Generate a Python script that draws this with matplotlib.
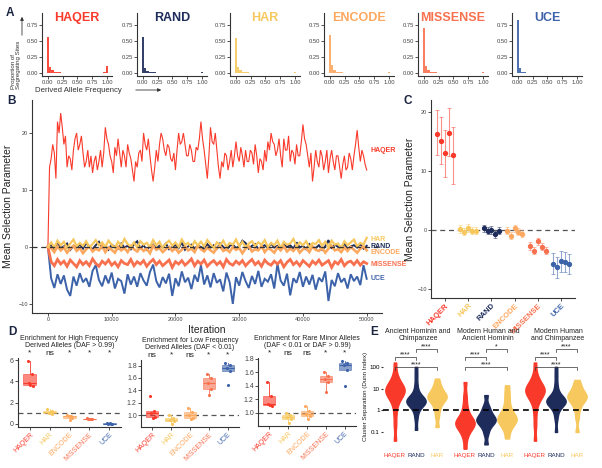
import numpy as np
import matplotlib
matplotlib.use('Agg')
import matplotlib.pyplot as plt
from matplotlib.patches import FancyArrowPatch
import matplotlib.transforms as mtransforms

plt.rcParams['font.family'] = ['Liberation Sans', 'DejaVu Sans']

#______colours per region set
col = {'HAQER': '#F93A2B', 'RAND': '#1D2C5B', 'HAR': '#F7C85E',
       'ENCODE': '#FDA85F', 'MISSENSE': '#F8714F', 'UCE': '#3C62A9'}
INK = '#333333'
LETTER = '#1B2440'

#______A: derived allele frequency spectra
a_groups = ['HAQER', 'RAND', 'HAR', 'ENCODE', 'MISSENSE', 'UCE']
daf_bins = np.linspace(0, 1, 26)
afs_haqer = [0.56, 0.10, 0.05, 0.03, 0.02, 0.015, 0.012, 0.01, 0.01, 0.008, 0.008, 0.007, 0.006,
             0.006, 0.005, 0.005, 0.005, 0.005, 0.005, 0.005, 0.005, 0.005, 0.006, 0.008, 0.02, 0.11]
afs_rand = [0.57, 0.09, 0.04, 0.03, 0.02, 0.015, 0.012, 0.01, 0.009, 0.008, 0.007, 0.006, 0.006,
            0.005, 0.005, 0.005, 0.004, 0.004, 0.004, 0.004, 0.004, 0.004, 0.004, 0.005, 0.008, 0.02]
afs_har = [0.55, 0.10, 0.05, 0.03, 0.02, 0.015, 0.012, 0.01, 0.009, 0.008, 0.007, 0.006, 0.006,
           0.005, 0.005, 0.005, 0.004, 0.004, 0.004, 0.004, 0.004, 0.004, 0.005, 0.006, 0.01, 0.03]
afs_encode = [0.60, 0.13, 0.05, 0.03, 0.02, 0.015, 0.012, 0.01, 0.009, 0.008, 0.007, 0.006, 0.006,
              0.005, 0.005, 0.005, 0.004, 0.004, 0.004, 0.004, 0.004, 0.004, 0.005, 0.006, 0.008, 0.02]
afs_missense = [0.71, 0.11, 0.05, 0.03, 0.02, 0.015, 0.01, 0.009, 0.008, 0.007, 0.006, 0.005, 0.005,
                0.004, 0.004, 0.004, 0.004, 0.003, 0.003, 0.003, 0.003, 0.003, 0.004, 0.005, 0.007, 0.02]
afs_uce = [0.83, 0.08, 0.03, 0.015, 0.01, 0.008, 0.006, 0.005, 0.004, 0.004, 0.003, 0.003, 0.003,
           0.002, 0.002, 0.002, 0.002, 0.001, 0.001, 0.0, 0.0, 0.0, 0.0, 0.0, 0.0, 0.0]

#______B: MCMC traces of the mean selection parameter
trace_haqer = [0, 14, 15.5, 18, 16.5, 12, 22, 20, 23.5, 21, 18, 19.5, 14, 16, 15.5, 13.5, 17, 19, 20, 17,
               18, 19.5, 16.5, 14, 15, 17, 14, 16, 13, 15, 16, 13.5, 15, 17, 14, 16.5, 21, 19, 18, 16,
               15, 13, 17.5, 16, 19, 16.5, 14, 17, 16, 14, 18, 16.5, 15.5, 13.5, 11.5, 15, 14, 16.5, 17, 15,
               20, 18, 17, 19, 16, 13.5, 11.5, 14, 17, 15, 18, 20, 19, 17, 16, 18, 17.5, 15.5, 15, 16.5,
               13.5, 17, 20, 18, 18.5, 20, 18, 16, 16, 18, 17, 15, 15, 17.5, 17, 19, 22, 19, 17, 14.5,
               12, 16, 21, 18.5, 18, 20, 17, 14, 12, 15, 14, 16.5, 16, 13.5, 15, 17, 14, 16, 18.5, 16,
               15, 17.5, 16, 14, 17, 15, 15, 17, 16.5, 14.5, 18, 16, 13, 15.5, 15, 13.5, 17, 15, 18.5, 17,
               20, 18.5, 18, 16, 17, 19, 16, 14, 19, 17, 17, 19.5, 15, 17, 16.5, 14.5, 18, 16, 16, 18.5,
               21.5, 19, 18, 16, 14, 16.5, 11.5, 14, 17, 15, 14, 17, 16, 13.5, 15, 17, 13, 15.5, 17, 15,
               13.5, 16, 16, 14, 12, 14.5, 16, 13.5, 14, 16.5, 15.5, 13.5, 16, 18, 20.5, 17.5, 15, 17, 16, 14.5,
               13.5]
trace_uce = [0, -5.5, -7.2, -4.8, -6.5, -5.0, -7.5, -8.6, -5.2, -6.8, -4.6, -6.2, -5.5, -7.0, -4.2, -3.2,
             -5.8, -6.9, -5.0, -6.4, -4.5, -7.3, -5.6, -6.0, -8.2, -4.8, -6.6, -5.2, -7.0, -4.6, -5.9, -6.8,
             -4.4, -3.1, -6.0, -7.1, -5.3, -6.4, -4.7, -8.6, -5.5, -6.9, -4.3, -6.2, -5.4, -7.4, -4.9, -6.1,
             -3.2, -6.6, -5.0, -7.1, -4.6, -6.3, -5.7, -7.8, -4.5, -6.2, -10.0, -5.3, -6.8, -4.4, -6.0, -7.2,
             -5.1, -6.5, -4.2, -7.0, -5.6, -6.1, -4.8, -7.3, -3.0, -5.9, -6.8, -4.7, -8.5, -5.5, -6.3, -4.4,
             -7.0, -5.2, -6.6, -4.9, -7.5, -5.4, -6.1, -4.3, -9.5, -5.8, -6.9, -4.6, -6.2, -5.5, -7.3, -4.8,
             -6.0, -5.2, -6.7, -3.2, -5.6]
trace_missense = [0, -2.6, -3.3, -2.2, -3.0, -2.5, -3.4, -2.3, -2.9, -3.5, -2.4, -3.1, -2.6, -3.3, -2.1,
                  -2.9, -3.4, -2.5, -3.0, -2.3, -3.2, -2.7, -3.5, -2.4, -2.9, -3.1, -2.2, -3.3, -2.6, -3.0,
                  -2.4, -3.4, -2.7, -2.2, -3.1, -2.5, -3.3, -2.8, -2.3, -3.6, -2.6, -3.0, -2.4, -3.2, -2.7,
                  -2.1, -3.3, -2.5, -3.0, -2.3, -3.4, -2.8, -2.4, -3.1, -2.6, -3.5, -2.2, -2.9, -3.2, -2.5,
                  -3.0, -2.4, -3.3, -2.7, -2.2, -3.1, -2.6, -3.4, -2.3, -2.9, -3.2, -2.5, -3.0, -2.4, -3.5,
                  -2.7, -2.2, -3.1, -2.6, -3.3, -2.4, -2.9, -3.4, -2.5, -3.0, -2.3, -3.2, -2.8, -2.4, -3.6,
                  -2.6, -3.0, -2.2, -3.3, -2.7, -2.5, -3.1, -2.4, -3.2, -2.6, -2.9]
trace_rand = [0, 0.3, -0.4, 0.5, -0.2, 0.1, 0.6, -0.5, 0.2, -0.1, 0.4, -0.3, 0.7, 0.0, -0.4, 0.3, 0.9,
              -0.2, 0.1, -0.5, 0.4, 0.0, -0.3, 0.6, -0.1, 0.2, -0.4, 0.5, 1.0, -0.2, 0.3, -0.5, 0.1, 0.4,
              -0.3, 0.2, -0.1, 0.6, -0.4, 0.0, 0.3, -0.2, 0.8, -0.5, 0.1, 0.4, -0.3, 0.2, 0.0, -0.4, 0.5,
              -0.1, 0.3, -0.3, 0.6, 0.0, -0.5, 0.2, 0.4, -0.2, 0.1, 1.1, 0.7, -0.3, 0.2, 0.5, -0.4, 0.0,
              0.3, -0.2, 0.6, -0.1, 0.2, -0.5, 0.4, 0.0, 0.3, -0.3, 0.8, -0.1, 0.2, -0.4, 0.5, 0.0, -0.2,
              0.3, -0.5, 0.1, 1.2, -0.3, 0.4, 0.0, -0.2, 0.6, -0.4, 0.1, 0.3, -0.1, 0.5, -0.3, 0.2]
trace_encode = [0, -0.2, -0.9, 0.1, -0.6, -0.1, -1.0, -0.3, 0.2, -0.7, -0.2, -1.1, -0.4, 0.1, -0.8, -0.3,
                -0.6, 0.2, -0.9, -0.1, -0.5, -1.0, 0.0, -0.6, -0.2, -0.9, 0.1, -0.4, -0.8, -0.1, -0.7, -0.3,
                -1.1, 0.2, -0.5, -0.2, -0.9, -0.4, 0.0, -0.7, -0.2, -1.0, -0.5, 0.1, -0.6, -0.3, -0.9, 0.2,
                -0.4, -0.8, -0.1, -0.6, -1.0, -0.2, 0.1, -0.7, -0.4, -0.9, 0.0, -0.5, -0.2, -1.1, -0.3, 0.1,
                -0.8, -0.4, -0.6, 0.2, -0.9, -0.2, -0.5, -1.0, -0.1, -0.6, 0.1, -0.8, -0.3, -0.7, 0.0, -1.0,
                -0.4, -0.2, -0.9, 0.1, -0.5, -0.7, -0.2, -1.0, -0.3, 0.2, -0.6, -0.4, -0.9, -0.1, -0.7, 0.0,
                -0.5, -1.0, -0.3, 0.1, -0.6]
trace_har = [0, 0.8, -0.1, 1.1, 0.3, 0.9, -0.2, 0.6, 1.3, 0.1, 0.7, 0.2, 1.0, -0.1, 0.5, 1.2, 0.3, 0.8,
             0.0, 1.1, 0.4, -0.2, 0.9, 0.2, 1.4, 0.5, 0.1, 0.8, -0.1, 1.0, 0.4, 0.7, 0.0, 1.2, 0.3, 0.9,
             -0.2, 0.6, 1.1, 0.2, 0.8, 0.0, 1.3, 0.4, 0.7, -0.1, 1.0, 0.3, 0.9, 0.1, 1.2, 0.5, -0.2, 0.8,
             0.3, 1.1, 0.0, 0.7, 0.4, 1.3, 0.1, 0.9, -0.1, 0.6, 1.0, 0.2, 0.8, 0.4, 1.2, 0.0, 0.7, 0.3,
             1.1, -0.2, 0.9, 0.4, 0.6, 1.4, 0.1, 0.8, 0.3, 1.0, -0.1, 0.7, 0.5, 1.2, 0.2, 0.9, 0.0, 1.1,
             0.4, 0.6, -0.2, 1.0, 0.3, 0.8, 1.3, 0.1, 0.7, 0.4, 1.6]
b_label_y = {'HAQER': 17, 'HAR': 1.3, 'RAND': 0.1, 'ENCODE': -1.0, 'MISSENSE': -3.0, 'UCE': -5.6}

#______C: per-chain posterior means with intervals
c_groups = ['HAQER', 'HAR', 'RAND', 'ENCODE', 'MISSENSE', 'UCE']
c_mean_haqer = [16.3, 15.1, 13.0, 16.4, 12.7]
c_lo_haqer = [12.7, 11.2, 9.0, 12.5, 7.8]
c_hi_haqer = [20.3, 19.2, 17.0, 20.7, 17.5]
c_mean_har = [0.2, -0.3, 0.3, -0.1, -0.1]
c_lo_har = [-0.5, -0.9, -0.4, -0.7, -0.7]
c_hi_har = [0.9, 0.3, 1.0, 0.5, 0.5]
c_mean_rand = [0.3, -0.1, 0.0, -0.7, -0.1]
c_lo_rand = [-0.3, -0.7, -0.6, -1.3, -0.7]
c_hi_rand = [0.9, 0.5, 0.6, -0.1, 0.5]
c_mean_encode = [-0.1, -1.0, 0.3, -0.3, -0.6]
c_lo_encode = [-0.7, -1.6, -0.3, -0.9, -1.2]
c_hi_encode = [0.5, -0.4, 0.9, 0.3, 0.0]
c_mean_missense = [-2.7, -3.5, -1.9, -2.8, -3.5]
c_lo_missense = [-3.4, -4.1, -2.5, -3.4, -4.1]
c_hi_missense = [-2.0, -2.9, -1.3, -2.2, -2.9]
c_mean_uce = [-5.8, -6.3, -5.3, -5.4, -5.8]
c_lo_uce = [-7.5, -8.1, -7.1, -7.1, -7.5]
c_hi_uce = [-3.9, -4.6, -3.6, -3.7, -4.0]

#______D: enrichment relative to random regions
d_groups = ['HAQER', 'HAR', 'ENCODE', 'MISSENSE', 'UCE']
d1_haqer = [5.9, 4.7, 3.8, 3.6, 3.7]
d1_har = [1.35, 1.2, 1.0, 0.9, 1.1]
d1_encode = [0.85, 0.75, 0.7, 0.55, 0.35]
d1_missense = [0.55, 0.5, 0.45, 0.45, 0.5]
d1_uce = [0.03, 0.01, 0.0, 0.02, 0.03]
d2_haqer = [1.31, 1.07, 1.03, 0.97, 0.96]
d2_har = [1.0, 0.95, 0.93, 0.91, 0.86]
d2_encode = [1.12, 1.05, 1.0, 0.96, 0.94]
d2_missense = [1.66, 1.6, 1.52, 1.43, 1.33]
d2_uce = [1.84, 1.81, 1.76, 1.72, 1.49]
d3_haqer = [1.45, 1.25, 1.12, 1.09, 1.11]
d3_har = [1.0, 0.97, 0.93, 0.9, 0.85]
d3_encode = [1.1, 1.02, 0.98, 0.95, 0.9]
d3_missense = [1.6, 1.55, 1.5, 1.45, 1.3]
d3_uce = [1.76, 1.74, 1.7, 1.63, 1.4]
d1_sig = ['*', 'ns', '*', '*', '*']
d2_sig = ['ns', '*', 'ns', '*', '*']
d3_sig = ['*', 'ns', 'ns', '*', '*']
d_titles = ['Enrichment for High Frequency\nDerived Alleles (DAF > 0.99)',
            'Enrichment for Low Frequency\nDerived Alleles (DAF < 0.01)',
            'Enrichment for Rare Minor Alleles\n(DAF < 0.01 or DAF > 0.99)']

#______E: cluster separation (log10 Dunn index), quantiles
e_groups = ['HAQER', 'RAND', 'HAR']
e_titles = ['Ancient Hominin and\nChimpanzee', 'Modern Human and\nAncient Hominin',
            'Modern Human\nand Chimpanzee']
e1_haqer = [-1.4, -0.7, -0.2, 0.2, 0.4, 0.55, 0.65, 0.72, 0.78, 0.84, 0.9, 0.95, 1.0, 1.05, 1.12, 1.2, 1.3, 1.45, 1.7, 2.2]
e1_rand = [-0.9, -0.4, -0.1, 0.1, 0.2, 0.28, 0.33, 0.37, 0.4, 0.43, 0.46, 0.5, 0.55, 0.62, 0.72, 0.9, 1.2, 1.6, 2.0]
e1_har = [-0.77, -0.3, 0.0, 0.2, 0.35, 0.45, 0.52, 0.58, 0.63, 0.68, 0.74, 0.82, 0.92, 1.05, 1.2, 1.46]
e2_haqer = [-1.77, -1.3, -1.05, -0.9, -0.8, -0.72, -0.66, -0.6, -0.55, -0.5, -0.43, -0.33, -0.2, 0.0, 0.3, 0.7, 1.3]
e2_rand = [-1.57, -1.1, -0.85, -0.7, -0.6, -0.53, -0.47, -0.42, -0.37, -0.3, -0.2, -0.08, 0.05, 0.25, 0.7]
e2_har = [-1.3, -0.95, -0.75, -0.62, -0.53, -0.46, -0.4, -0.33, -0.25, -0.15, 0.0, 0.2, 0.5, 0.8, 1.15]
e3_haqer = [-1.4, -0.7, -0.2, 0.2, 0.4, 0.55, 0.65, 0.72, 0.78, 0.84, 0.9, 0.95, 1.0, 1.05, 1.12, 1.2, 1.3, 1.45, 1.7, 2.2]
e3_rand = [-1.0, -0.4, -0.1, 0.1, 0.2, 0.28, 0.33, 0.37, 0.4, 0.43, 0.46, 0.5, 0.55, 0.62, 0.72, 0.9, 1.2, 1.6, 2.0]
e3_har = [-1.0, -0.35, 0.0, 0.2, 0.35, 0.45, 0.52, 0.58, 0.63, 0.68, 0.74, 0.82, 0.92, 1.05, 1.2, 1.4]
e_sig = [['****', '****', '****'], ['****', '*', '****'], ['****', '****', '****']]

W, H = 602, 468
fig = plt.figure(figsize=(W / 100, H / 100), dpi=100)


def box(l, t, r, b):
    # pixel box (left, top, right, bottom) -> figure fraction rect
    return [l / W, 1 - b / H, (r - l) / W, (b - t) / H]


def classic(ax, fs):
    for s in ['top', 'right']:
        ax.spines[s].set_visible(False)
    for s in ['left', 'bottom']:
        ax.spines[s].set_color(INK)
        ax.spines[s].set_linewidth(0.8)
    ax.tick_params(labelsize=fs, length=2, width=0.6, color=INK, labelcolor='#444444', pad=1)


#______A
afs = dict(zip(a_groups, [afs_haqer, afs_rand, afs_har, afs_encode, afs_missense, afs_uce]))
a_left = [42, 137, 230, 324, 418, 512]
for k, g in enumerate(a_groups):
    ax = fig.add_axes(box(a_left[k], 13, a_left[k] + 70, 76))
    ax.bar(daf_bins, afs[g], width=0.04, color=col[g], alpha=0.9, linewidth=0)
    ax.set_xlim(-0.1, 1.085)
    ax.set_ylim(-0.04, 0.94)
    ax.set_xticks([0, 0.25, 0.5, 0.75, 1.0])
    ax.set_xticklabels(['0.00', '0.25', '0.50', '0.75', '1.00'])
    ax.set_yticks([0, 0.25, 0.5, 0.75])
    ax.set_yticklabels(['0.00', '0.25', '0.50', '0.75'])
    classic(ax, 4.2)
    ax.text(0.5, 0.92, g, transform=ax.transAxes, ha='center', va='center',
            color=col[g], fontsize=9, fontweight='bold')

fig.text(16 / W, 1 - 89 / H, 'Proportion of\nSegregating Sites', rotation=90, ha='center',
         va='bottom', multialignment='left', fontsize=4.4, color=INK)
fig.text(35 / W, 1 - 90 / H, 'Derived Allele Frequency', ha='left', va='center', fontsize=5.6, color=INK)
fig.add_artist(FancyArrowPatch((22 / W, 1 - 38 / H), (22 / W, 1 - 14 / H), transform=fig.transFigure,
                               arrowstyle='-|>', mutation_scale=5, lw=0.6, color=INK))
fig.add_artist(FancyArrowPatch((133 / W, 1 - 90 / H), (164 / W, 1 - 90 / H), transform=fig.transFigure,
                               arrowstyle='-|>', mutation_scale=5, lw=0.6, color=INK))

#______B
ax = fig.add_axes(box(32, 100, 382, 313))
traces = [('HAQER', trace_haqer, 0.8), ('UCE', trace_uce, 1.4), ('MISSENSE', trace_missense, 2.0),
          ('RAND', trace_rand, 1.4), ('ENCODE', trace_encode, 1.9), ('HAR', trace_har, 1.6)]
for g, v, lw in traces:
    it = np.linspace(0, 50000, len(v))
    ax.plot(it, v, color=col[g], lw=lw, solid_joinstyle='miter')
ax.axhline(0, color='#333333', lw=0.9, ls=(0, (4, 3)))
for g, y in b_label_y.items():
    ax.text(50600, y, g, color=col[g], fontsize=5, fontweight='bold', ha='left', va='center', clip_on=False)
ax.set_xlim(-2500, 52400)
ax.set_ylim(-11.6, 25.8)
ax.set_xticks([0, 10000, 20000, 30000, 40000, 50000])
ax.set_xticklabels(['0', '10000', '20000', '30000', '40000', '50000'])
ax.set_yticks([-10, 0, 10, 20])
classic(ax, 4)
ax.set_xlabel('Iteration', fontsize=7.5, labelpad=2, color='#222222')
ax.set_ylabel('Mean Selection Parameter', fontsize=7.5, labelpad=4, color='#222222')

#______C
c_mean = dict(zip(c_groups, [c_mean_haqer, c_mean_har, c_mean_rand, c_mean_encode, c_mean_missense, c_mean_uce]))
c_lo = dict(zip(c_groups, [c_lo_haqer, c_lo_har, c_lo_rand, c_lo_encode, c_lo_missense, c_lo_uce]))
c_hi = dict(zip(c_groups, [c_hi_haqer, c_hi_har, c_hi_rand, c_hi_encode, c_hi_missense, c_hi_uce]))
ax = fig.add_axes(box(431, 100, 575, 298))
ax.axhline(0, color='#555555', lw=0.9, ls=(0, (4, 3)), zorder=1)
for gi, g in enumerate(c_groups):
    for j in range(5):
        x = gi + 1 + (j - 2) * 0.167
        m = c_mean[g][j]
        ax.errorbar(x, m, yerr=[[m - c_lo[g][j]], [c_hi[g][j] - m]], fmt='none',
                    ecolor=col[g], alpha=0.55, elinewidth=0.8, capsize=1.3, capthick=0.6, zorder=2)
        ax.plot(x, m, 'o', color=col[g], ms=2.8, zorder=3)
ax.set_xlim(0.4, 6.6)
ax.set_ylim(-11.5, 22)
ax.set_yticks([-10, 0, 10, 20])
ax.set_xticks(range(1, 7))
ax.set_xticklabels(c_groups, rotation=45, ha='right', rotation_mode='anchor')
classic(ax, 4)
ax.tick_params(axis='x', labelsize=5.5)
for lab, g in zip(ax.get_xticklabels(), c_groups):
    lab.set_color(col[g])
    lab.set_fontweight('bold')
ax.set_ylabel('Mean Selection Parameter', fontsize=7.5, labelpad=2, color='#222222')

#______D
d_sets = [[d1_haqer, d1_har, d1_encode, d1_missense, d1_uce],
          [d2_haqer, d2_har, d2_encode, d2_missense, d2_uce],
          [d3_haqer, d3_har, d3_encode, d3_missense, d3_uce]]
d_sigs = [d1_sig, d2_sig, d3_sig]
d_boxes = [(18, 358, 121, 427), (141, 360, 239, 427), (258, 358, 356, 426)]
d_ylims = [(-0.3, 6.2), (0.81, 1.89), (0.80, 1.81)]
d_yticks = [[0, 2, 4, 6], [1.0, 1.2, 1.4, 1.6, 1.8], [1.0, 1.2, 1.4, 1.6, 1.8]]
jit = [-0.12, 0.1, -0.05, 0.14, 0.03]
for p in range(3):
    ax = fig.add_axes(box(*d_boxes[p]))
    ax.axhline(1, color='#555555', lw=0.9, ls=(0, (4, 3)), zorder=1)
    bp = ax.boxplot(d_sets[p], positions=range(1, 6), widths=0.65, patch_artist=True,
                    showfliers=False, whis=1.5)
    for gi, g in enumerate(d_groups):
        bp['boxes'][gi].set(facecolor=col[g], alpha=0.6, edgecolor=col[g], linewidth=0.6)
        bp['medians'][gi].set(color=col[g], linewidth=0.8)
        for w in bp['whiskers'][2 * gi:2 * gi + 2]:
            w.set(color=col[g], linewidth=0.6)
        for c in bp['caps'][2 * gi:2 * gi + 2]:
            c.set_visible(False)
        ax.scatter(np.array(jit) + gi + 1, d_sets[p][gi], s=5, color=col[g], zorder=4, linewidths=0)
    trans = mtransforms.blended_transform_factory(ax.transData, ax.transAxes)
    for gi, s in enumerate(d_sigs[p]):
        ax.text(gi + 1, 1.02, s, transform=trans, ha='center', va='bottom', fontsize=6, color='#222222')
    ax.set_xlim(0.4, 5.6)
    ax.set_ylim(*d_ylims[p])
    ax.set_yticks(d_yticks[p])
    if p > 0:
        ax.set_yticklabels(['%.1f' % t for t in d_yticks[p]])
    ax.set_xticks(range(1, 6))
    ax.set_xticklabels(d_groups, rotation=45, ha='right', rotation_mode='anchor')
    classic(ax, 5)
    for lab, g in zip(ax.get_xticklabels(), d_groups):
        lab.set_color(col[g])
    ax.set_title(d_titles[p], fontsize=5, pad=8, color='#222222', linespacing=1.0)

#______E
e_sets = [[e1_haqer, e1_rand, e1_har], [e2_haqer, e2_rand, e2_har], [e3_haqer, e3_rand, e3_har]]
brackets = [(1, 2, 2.46), (2, 3, 2.83), (1, 3, 2.0)]
for f in range(3):
    l = 383 + 70 * f
    ax = fig.add_axes(box(l, 343, l + 70, 450))
    parts = ax.violinplot(e_sets[f], positions=[1, 2, 3], widths=0.92, showextrema=False, bw_method=0.3)
    for body, g in zip(parts['bodies'], e_groups):
        body.set_facecolor(col[g])
        body.set_edgecolor(col[g])
        body.set_alpha(1)
    ax.axhline(0, color='black', lw=1.2, ls=(0, (3.5, 2.5)), zorder=5)
    for (a, b, y), s in zip(brackets, e_sig[f]):
        ax.plot([a, a, b, b], [y - 0.15, y, y, y - 0.15], color='#333333', lw=0.5)
        ax.text((a + b) / 2, y + 0.1, s, ha='center', va='center', fontsize=5, color='#222222')
    ax.set_xlim(0.43, 3.76)
    ax.set_ylim(-1.83, 3.1)
    for s in ax.spines.values():
        s.set_visible(False)
    ax.set_xticks([1, 2, 3])
    ax.set_xticklabels(e_groups)
    ax.tick_params(axis='x', length=0, labelsize=4.5, pad=2)
    for lab, g in zip(ax.get_xticklabels(), e_groups):
        lab.set_color(col[g])
    ax.set_yticks([-1, 0, 1, 2])
    if f == 0:
        ax.set_yticklabels(['0.1', '1', '10', '100'])
        ax.tick_params(axis='y', length=1.5, labelsize=4.5, pad=1, color=INK)
        ax.set_ylabel('Cluster Separation (Dunn Index)', fontsize=4.5, labelpad=1, color='#222222')
    else:
        ax.tick_params(axis='y', length=0, labelleft=False)
    ax.set_title(e_titles[f], fontsize=5, pad=2, color='#222222', linespacing=1.0)

#______panel letters
for letter, (x, y) in zip('ABCDE', [(10, 13), (11, 101), (408, 101), (12, 332), (374, 332)]):
    fig.text(x / W, 1 - y / H, letter, fontsize=8.5, fontweight='bold', color=LETTER, ha='center', va='center')

fig.savefig('out.png', dpi=100)
